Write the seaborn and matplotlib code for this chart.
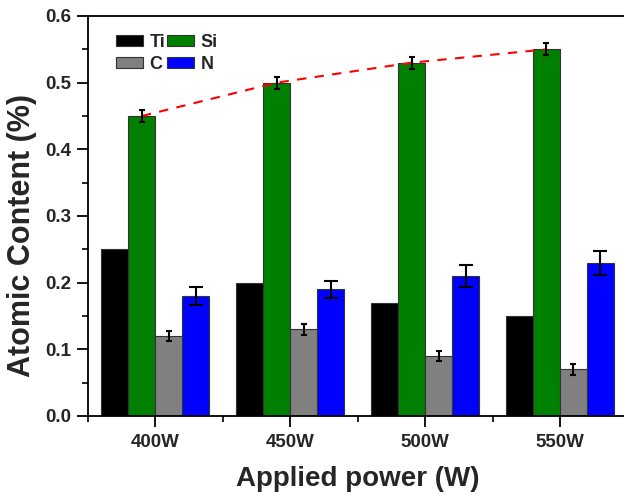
import matplotlib
matplotlib.use("Agg")
import matplotlib.pyplot as plt
from matplotlib.ticker import MultipleLocator, FixedLocator, FormatStrFormatter
import pandas as pd
import seaborn as sns

# Atomic content of the films at each applied power
powers = ["400W", "450W", "500W", "550W"]
elements = ["Ti", "Si", "C", "N"]
ti_vals = [0.25, 0.20, 0.17, 0.15]
si_vals = [0.45, 0.50, 0.53, 0.55]
c_vals = [0.12, 0.13, 0.09, 0.07]
n_vals = [0.18, 0.19, 0.21, 0.23]

# Standard deviations (Ti reported without error)
si_err = [0.009, 0.009, 0.009, 0.009]
c_err = [0.008, 0.008, 0.008, 0.008]
n_err = [0.013, 0.013, 0.017, 0.018]

colors = {"Ti": "#000000", "Si": "#008000", "C": "#808080", "N": "#0000FF"}

df = pd.DataFrame({
    "power": powers * 4,
    "element": [e for e in elements for _ in powers],
    "content": ti_vals + si_vals + c_vals + n_vals,
})

sns.set_style("ticks")
plt.rcParams["font.family"] = ["Liberation Sans", "DejaVu Sans"]
plt.rcParams["font.weight"] = "bold"

fig = plt.figure(figsize=(6.24, 4.95), dpi=100)
ax = fig.add_axes([88 / 624, 1 - 416 / 495, (627.4 - 88) / 624, 400 / 495])

sns.barplot(data=df, x="power", y="content", hue="element",
            hue_order=elements, order=powers, palette=colors,
            width=0.8, errorbar=None, edgecolor="#333333", linewidth=0.8,
            saturation=1, ax=ax)

# Error bars placed on the drawn bars
errs = {"Si": (si_err, 2.2), "C": (c_err, 2.2), "N": (n_err, 5.0)}
bar_pos = {}
for elem, cont in zip(elements, ax.containers):
    xs = [p.get_x() + p.get_width() / 2 for p in cont.patches]
    hs = [p.get_height() for p in cont.patches]
    bar_pos[elem] = (xs, hs)

# Trend of silicon content
sx, sh = bar_pos["Si"]
ax.plot(sx, sh, color="red", lw=1.5, ls=(0, (4.5, 4)), zorder=3)

for elem, (e, cap) in errs.items():
    xs, hs = bar_pos[elem]
    ax.errorbar(xs, hs, yerr=e, fmt="none", ecolor="black",
                elinewidth=1.5, capsize=cap, capthick=1.5, zorder=4)

ax.set_xlim(-0.5, 3.5)
ax.set_ylim(0, 0.6)
ax.yaxis.set_major_locator(MultipleLocator(0.1))
ax.yaxis.set_minor_locator(MultipleLocator(0.05))
ax.xaxis.set_minor_locator(FixedLocator([-0.5, 0.5, 1.5, 2.5, 3.5]))
ax.yaxis.set_major_formatter(FormatStrFormatter("%.1f"))

ax.tick_params(axis="both", which="major", direction="out", length=8,
               width=1.3, labelsize=13.5, color="black")
ax.tick_params(axis="both", which="minor", direction="out", length=4,
               width=1.2, color="black")
ax.tick_params(axis="y", pad=4)
ax.tick_params(axis="x", pad=5)
for lab in ax.get_xticklabels() + ax.get_yticklabels():
    lab.set_fontweight("bold")

for side in ["left", "bottom", "top", "right"]:
    ax.spines[side].set_visible(True)
    ax.spines[side].set_linewidth(1.3)
    ax.spines[side].set_color("black")

ax.set_xlabel("Applied power (W)", fontsize=20, fontweight="bold", labelpad=11)
ax.set_ylabel("Atomic Content (%)", fontsize=22, fontweight="bold")
ax.yaxis.set_label_coords(-0.095, 0.451)

handles, labels = ax.get_legend_handles_labels()
hmap = dict(zip(labels, handles))
order = ["Ti", "C", "Si", "N"]
ax.legend([hmap[k] for k in order], order, ncol=2, frameon=False,
          loc="upper left", bbox_to_anchor=(0.052, 0.955),
          prop={"size": 13, "weight": "bold"}, handlelength=1.5,
          handleheight=0.55, handletextpad=0.35, columnspacing=0.1,
          labelspacing=0.25, borderpad=0, borderaxespad=0)

fig.savefig("out.png", dpi=100)
